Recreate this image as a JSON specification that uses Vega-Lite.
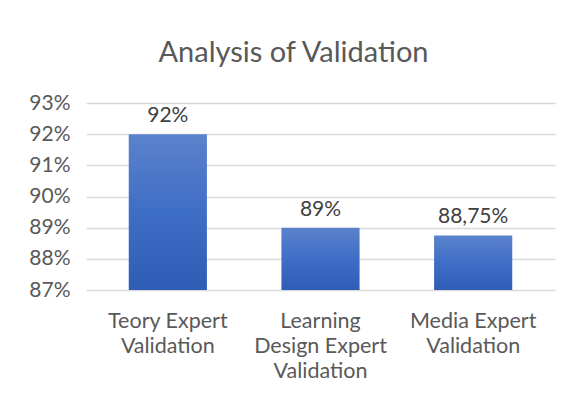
{
  "$schema": "https://vega.github.io/schema/vega-lite/v6.json",
  "width": 469,
  "height": 187,
  "autosize": {"type": "none"},
  "padding": {"left": 86, "top": 103, "right": 12, "bottom": 113},
  "background": "white",
  "config": {
    "view": {"stroke": null},
    "font": "Lato",
    "axis": {"labelOverlap": false},
    "locale": {"number": {"decimal": ",", "thousands": ".", "grouping": [3], "currency": ["", " €"]}}
  },
  "title": {
    "text": "Analysis of Validation",
    "font": "Lato",
    "fontSize": 29,
    "fontWeight": "normal",
    "color": "#595959",
    "anchor": "middle",
    "frame": "group",
    "dx": -27,
    "offset": 24
  },
  "data": {
    "values": [
      {"category": "Teory Expert Validation", "value": 0.92},
      {"category": "Learning Design Expert Validation", "value": 0.89},
      {"category": "Media Expert Validation", "value": 0.8875}
    ]
  },
  "encoding": {
    "x": {
      "field": "category",
      "type": "nominal",
      "sort": null,
      "scale": {"paddingInner": 0.488, "paddingOuter": 0.28},
      "axis": {
        "title": null,
        "labelAngle": 0,
        "labelFont": "Lato",
        "labelFontSize": 21.5,
        "labelColor": "#595959",
        "labelPadding": 20,
        "labelLineHeight": 25,
        "labelExpr": "datum.value == 'Teory Expert Validation' ? ['Teory Expert', 'Validation'] : datum.value == 'Media Expert Validation' ? ['Media Expert', 'Validation'] : ['Learning', 'Design Expert', 'Validation']",
        "labelBaseline": "top",
        "labelOverlap": false,
        "ticks": false,
        "domain": false,
        "grid": false
      }
    },
    "y": {
      "field": "value",
      "type": "quantitative",
      "scale": {"domain": [0.87, 0.93], "zero": false, "nice": false},
      "axis": {
        "title": null,
        "format": ".0%",
        "values": [0.87, 0.88, 0.89, 0.9, 0.91, 0.92, 0.93],
        "labelFont": "Lato",
        "labelFontSize": 21,
        "labelColor": "#595959",
        "labelPadding": 16,
        "labelOverlap": false,
        "labelFlush": false,
        "labelBaseline": "middle",
        "ticks": false,
        "domain": false,
        "grid": true,
        "gridColor": "#d9d9d9",
        "gridWidth": 1.5
      }
    }
  },
  "layer": [
    {
      "mark": {
        "type": "bar",
        "color": {
          "gradient": "linear",
          "x1": 0, "y1": 0, "x2": 0, "y2": 1,
          "stops": [
            {"offset": 0, "color": "#5b82cc"},
            {"offset": 0.5, "color": "#3f6ec6"},
            {"offset": 1, "color": "#2f5db6"}
          ]
        }
      },
      "encoding": {
        "y2": {"datum": 0.87}
      }
    },
    {
      "mark": {
        "type": "text",
        "font": "Lato",
        "fontSize": 21,
        "color": "#404040",
        "baseline": "alphabetic",
        "dy": -12
      },
      "encoding": {
        "text": {"field": "value", "type": "quantitative", "format": "~%"}
      }
    }
  ]
}
